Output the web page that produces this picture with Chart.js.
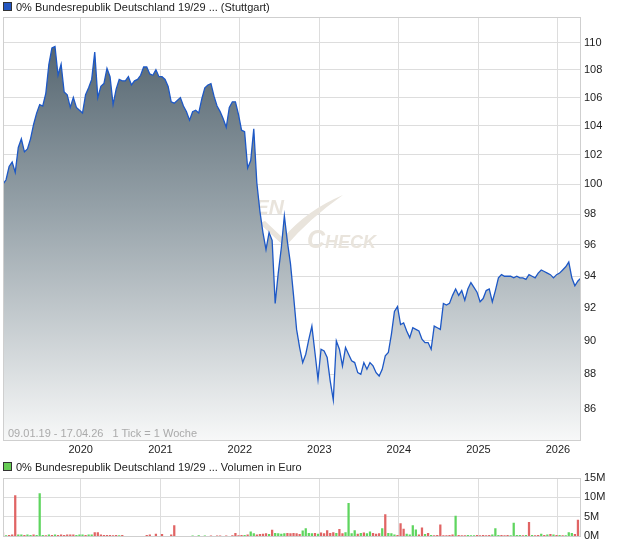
<!DOCTYPE html>
<html>
<head>
<meta charset="utf-8">
<script src="https://cdn.jsdelivr.net/npm/chart.js@4"></script>
<style>
  body { margin: 0; background: #fff; font-family: "Liberation Sans", Arial, sans-serif; }
  #wrap { position: relative; width: 620px; height: 546px; overflow: hidden; }
  canvas { position: absolute; left: 0; }
  .legend { position: absolute; left: 3px; font-size: 11px; color: #222; white-space: nowrap; }
  .legend i { display: inline-block; width: 7px; height: 7px; margin-right: 4px; border: 1px solid #333; }
  #range { position: absolute; left: 8px; top: 427px; font-size: 11px; color: #aaa; white-space: pre; }
</style>
</head>
<body>
<div id="wrap">
  <canvas id="priceChart" width="620" height="460" style="top:0"></canvas>
  <canvas id="volumeChart" width="620" height="86" style="top:460px"></canvas>
  <div class="legend" style="top:1px"><i style="background:#2456c0"></i>0% Bundesrepublik Deutschland 19/29 ... (Stuttgart)</div>
  <div class="legend" style="top:461px"><i style="background:#66cc55"></i>0% Bundesrepublik Deutschland 19/29 ... Volumen in Euro</div>
  <div id="range">09.01.19 - 17.04.26   1 Tick = 1 Woche</div>
</div>
<script>
// every second week from 09.01.19 to 17.04.26
const startDate = Date.UTC(2019, 0, 9);
const endDate = Date.UTC(2026, 3, 17);
const years = [2020, 2021, 2022, 2023, 2024, 2025, 2026];
const priceTicks = [86, 88, 90, 92, 94, 96, 98, 100, 102, 104, 106, 108, 110];
const volumeTicks = [0, 5, 10, 15];

const prices = [
  100.0, 100.3, 101.2, 101.5, 100.8, 102.5, 103.1, 102.2, 102.4, 103.1,
  104.1, 104.9, 105.5, 105.4, 106.3, 108.4, 109.6, 109.7, 107.6, 108.4,
  106.4, 106.2, 105.3, 106.0, 105.3, 105.1, 104.9, 106.2, 106.7, 107.3,
  109.3, 106.0, 106.8, 107.0, 108.1, 107.5, 105.5, 106.6, 107.3, 107.2,
  107.2, 107.5, 106.9, 107.2, 107.3, 107.6, 108.2, 108.2, 107.7, 107.6,
  108.0, 107.5, 107.5, 107.3, 106.8, 105.7, 105.6, 105.8, 106.0, 105.4,
  105.0, 104.4, 105.0, 105.1, 104.9, 105.9, 106.7, 106.9, 107.0, 106.1,
  105.4, 105.0, 104.5, 103.9, 105.3, 105.7, 105.7, 104.8, 103.7, 103.6,
  101.1, 101.6, 103.8, 100.1, 98.2, 96.8, 95.7, 96.8, 96.3, 92.3,
  94.2, 95.8, 97.9, 96.2, 94.8, 92.8, 90.7, 89.6, 88.7, 89.2,
  90.1, 90.9, 89.3, 87.7, 89.5, 89.4, 89.0, 87.6, 86.5, 90.0,
  89.5, 88.5, 89.6, 89.2, 88.8, 88.7, 88.1, 88.0, 88.7, 88.3,
  88.7, 88.5, 88.1, 87.9, 88.3, 89.1, 89.3, 90.4, 91.8, 92.1,
  91.0, 91.1, 90.6, 90.2, 90.8, 90.7, 90.6, 90.1, 89.9, 89.9,
  89.5, 90.9, 90.8, 90.7, 92.3, 92.2, 92.3, 92.8, 93.2, 92.8,
  93.1, 92.5, 93.2, 93.6, 93.3, 93.0, 92.4, 92.6, 93.1, 93.2,
  92.4, 93.1, 93.9, 94.1, 94.0, 94.0, 94.0, 93.9, 94.0, 93.9,
  93.9, 93.8, 94.1, 94.0, 93.9, 94.2, 94.4, 94.3, 94.2, 94.1,
  93.9, 94.1, 94.2, 94.4, 94.6, 94.9, 93.9, 93.4, 93.7, 93.9
];

// volume in million euro, same weeks as prices
const volumes = [
  1.0, 0.2, 0.3, 0.4, 10.5, 0.4, 0.4, 0.3, 0.4, 0.3,
  0.4, 0.3, 11.0, 0.3, 0.2, 0.4, 0.3, 0.4, 0.3, 0.4,
  0.3, 0.4, 0.4, 0.4, 0.3, 0.4, 0.4, 0.3, 0.4, 0.4,
  1.0, 1.0, 0.4, 0.3, 0.3, 0.3, 0.2, 0.3, 0.2, 0.3,
  0, 0, 0, 0, 0, 0, 0, 0.3, 0.4, 0,
  0.6, 0, 0.5, 0, 0, 0.4, 2.8, 0, 0, 0,
  0, 0, 0.1, 0, 0.2, 0, 0.1, 0, 0.1, 0,
  0.1, 0.1, 0, 0.1, 0, 0.2, 0.8, 0.2, 0.3, 0.3,
  0.4, 1.2, 0.7, 0.4, 0.5, 0.6, 0.7, 0.5, 1.6, 0.8,
  0.7, 0.6, 0.7, 0.8, 0.7, 0.8, 0.7, 0.5, 1.4, 2.0,
  0.8, 0.7, 0.8, 0.6, 0.9, 0.7, 1.5, 0.8, 1.0, 0.8,
  1.8, 0.7, 1.0, 8.5, 0.7, 1.5, 0.6, 0.8, 0.9, 0.7,
  1.2, 0.8, 0.6, 0.7, 2.0, 5.6, 0.8, 0.7, 0.4, 0.3,
  3.3, 1.9, 0.6, 0.4, 2.8, 1.7, 0.4, 2.2, 0.5, 0.8,
  0.3, 0.2, 0.3, 3.0, 0.2, 0.2, 0.3, 0.4, 5.2, 0.3,
  0.2, 0.2, 0.3, 0.2, 0.2, 0.3, 0.2, 0.3, 0.2, 0.3,
  0.4, 2.0, 0.3, 0.3, 0.2, 0.3, 0.2, 3.4, 0.3, 0.3,
  0.2, 0.3, 3.6, 0.3, 0.2, 0.3, 0.6, 0.3, 0.4, 0.5,
  0.4, 0.3, 0.3, 0.2, 0.2, 1.0, 0.8, 0.5, 4.2, 1.4
];
// r = falling week, g = rising week
const volumeSide =
  "rgrrrggrgg" + "rgggrgrgrr" + "rrrrgggrgg" + "rrrrrrrrgr" + "rrrrrrrrrr" +
  "rrrrrrrrrr" + "rrgrgrgrrr" + "rrrrrrrrrg" + "rggrrrrgrg" + "gggrrrrrgg" +
  "ggrgrrrrrg" + "rrggggrgrg" + "grrrgrgggr" + "rrggggrrgr" + "grrrrrrrgr" +
  "rrgggrrrrr" + "gggrrrgggg" + "rgrgrrgrgr" + "grgrgggrrg";

const dates = prices.map((p, i) => startDate + (endDate - startDate) * i / (prices.length - 1));
const yearTicks = years.map(y => Date.UTC(y, 0, 1));

const gridColor = '#dddddd';
const boxColor = '#cfcfcf';
const tickFont = { family: '"Liberation Sans", Arial, sans-serif', size: 11 };

const boxPlugin = {
  id: 'box',
  afterDraw(chart) {
    const a = chart.chartArea, ctx = chart.ctx;
    ctx.save();
    ctx.strokeStyle = boxColor;
    ctx.lineWidth = 1;
    ctx.strokeRect(Math.round(a.left) + 0.5, Math.round(a.top) + 0.5, Math.round(a.right - a.left) - 1, Math.round(a.bottom - a.top));
    ctx.restore();
  }
};

const watermarkPlugin = {
  id: 'watermark',
  beforeDatasetsDraw(chart) {
    const ctx = chart.ctx;
    ctx.save();
    ctx.fillStyle = '#e9e4dc';
    ctx.font = 'italic bold 21px "Liberation Sans", Arial, sans-serif';
    ctx.textAlign = 'right';
    ctx.fillText('ANLEIHEN', 284, 214);
    ctx.textAlign = 'left';
    ctx.font = 'italic bold 25px "Liberation Sans", Arial, sans-serif';
    ctx.fillText('C', 307, 248);
    ctx.font = 'italic bold 18px "Liberation Sans", Arial, sans-serif';
    ctx.fillText('HECK', 325, 248);
    ctx.beginPath();
    ctx.moveTo(259, 223);
    ctx.lineTo(265, 221);
    ctx.lineTo(283, 238);
    ctx.quadraticCurveTo(307, 210, 343, 195);
    ctx.quadraticCurveTo(310, 218, 285, 247);
    ctx.closePath();
    ctx.fill();
    ctx.restore();
  }
};

function xScale(showLabels) {
  return {
    type: 'linear',
    min: startDate,
    max: endDate,
    offset: false,
    afterBuildTicks: s => { s.ticks = yearTicks.map(v => ({ value: v })); },
    afterFit: s => { s.height = showLabels ? 20 : 9; },
    grid: { color: gridColor, drawTicks: false, offset: false },
    border: { display: false },
    ticks: {
      display: showLabels,
      color: '#222',
      font: tickFont,
      padding: 3,
      maxRotation: 0,
      callback: v => new Date(v).getUTCFullYear()
    }
  };
}

const priceCtx = document.getElementById('priceChart');
new Chart(priceCtx, {
  type: 'line',
  data: {
    datasets: [{
      data: prices.map((p, i) => ({ x: dates[i], y: p })),
      borderColor: '#1d58c6',
      borderWidth: 1.3,
      pointRadius: 0,
      tension: 0,
      fill: 'start',
      backgroundColor: c => {
        const a = c.chart.chartArea;
        if (!a) return '#8a979e';
        const g = c.chart.ctx.createLinearGradient(0, a.top, 0, a.bottom);
        g.addColorStop(0, '#4b5c67');
        g.addColorStop(0.45, '#95a1a8');
        g.addColorStop(1, '#f7f8f8');
        return g;
      }
    }]
  },
  options: {
    responsive: false,
    animation: false,
    devicePixelRatio: 1,
    layout: { padding: { left: 3, top: 17, right: 0, bottom: 0 } },
    plugins: { legend: { display: false }, tooltip: { enabled: false } },
    scales: {
      x: xScale(true),
      y: {
        type: 'logarithmic',
        position: 'right',
        min: 84.2,
        max: 111.9,
        afterBuildTicks: s => { s.ticks = priceTicks.map(v => ({ value: v })); },
        afterFit: s => { s.width = 39; },
        grid: { color: gridColor, drawTicks: false },
        border: { display: false },
        ticks: { color: '#222', font: tickFont, padding: 3, callback: v => String(v) }
      }
    }
  },
  plugins: [watermarkPlugin, boxPlugin]
});

const volumeCtx = document.getElementById('volumeChart');
new Chart(volumeCtx, {
  type: 'bar',
  data: {
    datasets: [{
      data: volumes.map((v, i) => ({ x: dates[i], y: v })),
      backgroundColor: volumes.map((v, i) => volumeSide[i] === 'g' ? '#5fd55f' : '#e06464'),
      barThickness: 1.6
    }]
  },
  options: {
    responsive: false,
    animation: false,
    devicePixelRatio: 1,
    layout: { padding: { left: 3, top: 18, right: 0, bottom: 0 } },
    plugins: { legend: { display: false }, tooltip: { enabled: false } },
    scales: {
      x: xScale(false),
      y: {
        position: 'right',
        min: 0,
        max: 15,
        afterBuildTicks: s => { s.ticks = volumeTicks.map(v => ({ value: v })); },
        afterFit: s => { s.width = 39; },
        grid: { color: gridColor, drawTicks: false },
        border: { display: false },
        ticks: { color: '#222', font: tickFont, padding: 3, callback: v => v + 'M' }
      }
    }
  },
  plugins: [boxPlugin]
});
</script>
</body>
</html>
